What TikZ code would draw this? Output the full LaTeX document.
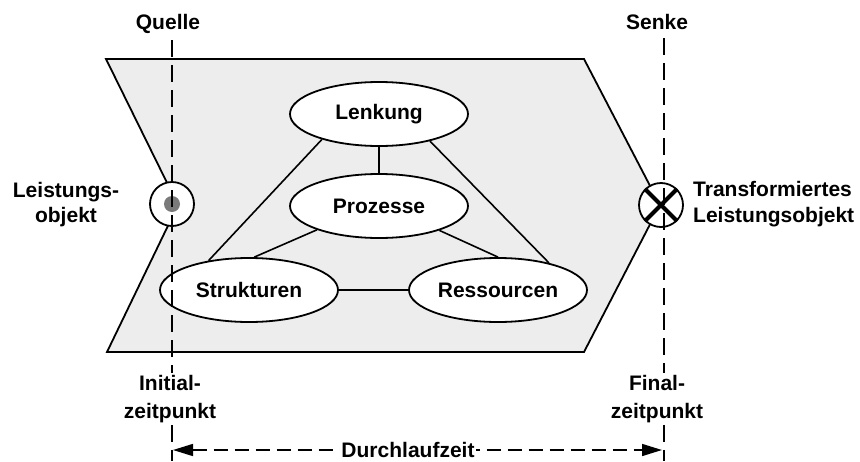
\documentclass[tikz,border=0pt]{standalone}
\usepackage{fontspec}
\setmainfont{Liberation Sans}
\usetikzlibrary{shapes.geometric,arrows.meta}
\definecolor{panel}{HTML}{EDEDED}
\definecolor{dotgray}{HTML}{7A7A7A}
\tikzset{
  lbl/.style={font=\bfseries\fontsize{21}{26}\selectfont, inner sep=0pt},
  bubble/.style={ellipse, draw, line width=1.8pt, fill=white,
    minimum width=178pt, minimum height=64pt, inner sep=0pt,
    font=\bfseries\fontsize{21}{26}\selectfont},
  link/.style={line width=1.6pt},
  marker/.style={circle, draw, line width=1.8pt, fill=white,
    minimum size=44pt, inner sep=0pt},
  timeline/.style={line width=1.8pt, dash pattern=on 17pt off 8pt},
  spanarrow/.style={line width=1.5pt, dash pattern=on 14pt off 7pt,
    {Triangle[length=20pt,width=12pt]}-{Triangle[length=20pt,width=12pt]}},
  stamp/.style={lbl, align=center, anchor=north, inner ysep=2pt,
    font=\bfseries\fontsize{21}{28}\selectfont},
}
\begin{document}
\begin{tikzpicture}[x=1pt,y=-1pt]
\useasboundingbox (0,0) rectangle (860,461);

% process body: notched at the source, pointed at the sink
\draw[line width=1.8pt, fill=panel, line join=miter]
  (106,59) -- (584,59) -- (660,205) -- (584,352) -- (107,352) -- (178,205) -- cycle;

% the four system elements
\node[bubble] (lenk) at (379,114) {Lenkung};
\node[bubble] (proz) at (379,206) {Prozesse};
\node[bubble] (stru) at (249,290) {Strukturen};
\node[bubble] (ress) at (498,290) {Ressourcen};

\draw[link] (lenk.south) -- (proz.north);
\draw[link] (lenk.204.5) -- (stru.144);
\draw[link] (lenk.332) -- (ress.28.4);
\draw[link] (proz.201.3) -- (stru.81);
\draw[link] (proz.338) -- (ress.90);
\draw[link] (stru.east) -- (ress.west);

% input and output objects
\node[marker] (src) at (172,204) {};
\node[circle, fill=dotgray, minimum size=16pt, inner sep=0pt] (srcdot) at (src.center) {};
\node[marker] (snk) at (661,205) {};
\draw[line width=4pt] (snk.45) -- (snk.225) (snk.135) -- (snk.315);

% labels
\node[lbl, anchor=base] (quelle) at (168,29) {Quelle};
\node[lbl, anchor=base] (senke) at (657,29) {Senke};
\node[lbl, align=center, anchor=north, font=\bfseries\fontsize{21}{25}\selectfont] (lobj) at (66,182) {Leistungs-\\objekt};
\node[lbl, align=left, anchor=north west] (tobj) at (693,181) {Transformiertes\\Leistungsobjekt};
\node[stamp] (init) at (170,373) {Initial-\\zeitpunkt};
\node[stamp] (fin) at (657,373) {Final-\\zeitpunkt};

% time lines at source and sink
\coordinate (qtop) at (172,40);
\coordinate (qbot) at (172,461);
\coordinate (stop) at (664,38);
\coordinate (sbot) at (664,461);
\draw[timeline] (qtop) -- (qtop |- init.north);
\draw[timeline] (qtop |- init.south) -- (qbot);
\draw[timeline] (stop) -- (stop |- fin.north);
\draw[timeline] (stop |- fin.south) -- (sbot);

% lead time span
\coordinate (t0) at (173,450);
\coordinate (t1) at (662,450);
\draw[spanarrow] (t0) -- (t1);
\node[lbl, fill=white, inner xsep=1pt, anchor=base] (dlz) at (408,457) {Durchlaufzeit};
\end{tikzpicture}
\end{document}
